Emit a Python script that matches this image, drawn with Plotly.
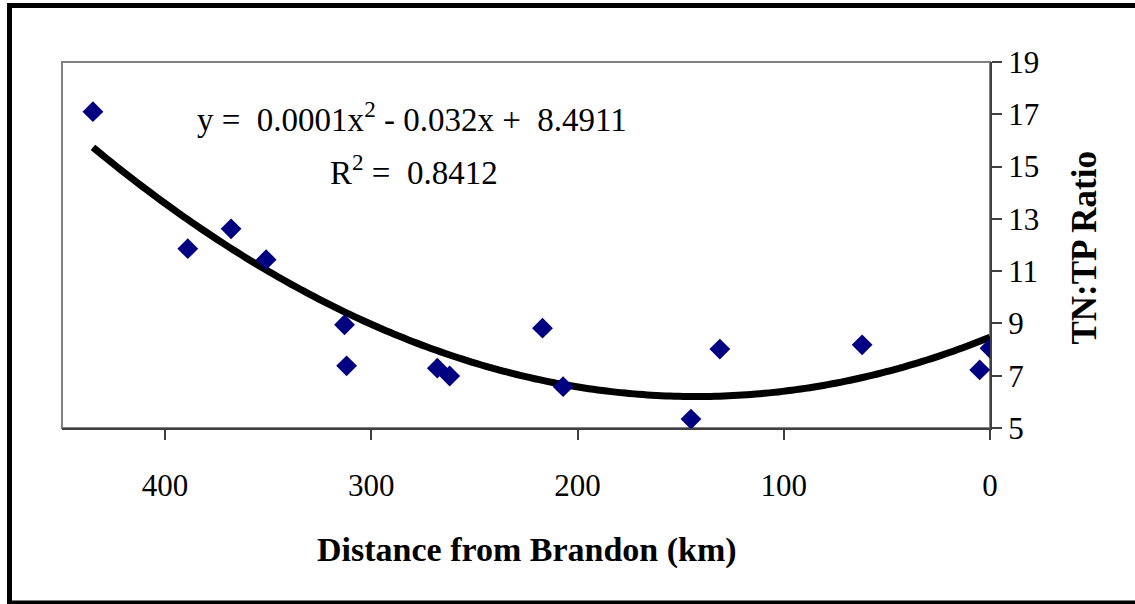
"""TN:TP ratio vs distance from Brandon, with quadratic trendline (Excel style)."""
import numpy as np
import plotly.graph_objects as go

_NAVY, _AXIS, _FRAME = "#000080", "#404040", "#808080"
FONT = "Liberation Serif"

# distance from Brandon (km) and TN:TP ratio
distance = [435, 389, 368, 351, 313, 312, 268, 262, 217, 207, 145, 131, 62, 5, 0]
tn_tp = [17.1, 11.86, 12.62, 11.44, 8.95, 7.38, 7.29, 6.99, 8.82, 6.58, 5.34, 8.02, 8.18, 7.22, 8.05]

x_ticks = [400, 300, 200, 100, 0]
y_ticks = [5, 7, 9, 11, 13, 15, 17, 19]

# quadratic trendline fitted to the points, drawn over the data range
coef = np.polyfit(distance, tn_tp, 2)
xs = np.linspace(min(distance), max(distance), 200)
ys = np.polyval(coef, xs)


def px(x, y):
    """pixel position in the 1135x604 page -> paper coords of the plot area"""
    return (x - 62) / 928, (428 - y) / 366


fig = go.Figure()
fig.add_trace(go.Scatter(x=xs, y=ys, mode="lines",
                         line=dict(color="black", width=7, simplify=False),
                         hoverinfo="skip"))
fig.add_trace(go.Scatter(x=distance, y=tn_tp, mode="markers",
                         marker=dict(symbol="diamond", size=16, color=_NAVY)))

fig.update_layout(
    width=1135, height=604, showlegend=False,
    margin=dict(l=62, r=145, t=62, b=176),
    plot_bgcolor="white", paper_bgcolor="white",
    font=dict(family=FONT, color="black", size=31),
)
fig.update_xaxes(range=[450, 0], tickvals=x_ticks, showgrid=False, zeroline=False,
                 showline=True, linecolor=_AXIS, linewidth=2,
                 ticks="outside", ticklen=10, tickcolor=_AXIS, tickwidth=2,
                 ticklabelstandoff=19, tickfont=dict(size=31))
fig.update_yaxes(range=[5, 19], tickvals=y_ticks, side="right", showgrid=False,
                 zeroline=False, showline=True, linecolor=_AXIS, linewidth=2,
                 ticks="outside", ticklen=10, tickcolor=_AXIS, tickwidth=2,
                 ticklabelstandoff=0, tickfont=dict(size=31))

# plot area frame (top/left grey) and outer black border
fig.add_shape(type="rect", xref="paper", yref="paper", x0=0, x1=1, y0=0, y1=1,
              line=dict(color=_FRAME, width=2), layer="below")
bx0, by0 = px(9.5, 603)
bx1, by1 = px(1140, 5.5)
fig.add_shape(type="rect", xref="paper", yref="paper", x0=bx0, x1=bx1, y0=by0, y1=by1,
              line=dict(color="black", width=5))

nb = "&nbsp;"
ex, ey = px(412, 94)
fig.add_annotation(text=f"y{nb}={nb} 0.0001x<sup>2</sup> - 0.032x +{nb} 8.4911",
                   xref="paper", yref="paper", x=ex, y=ey, showarrow=False,
                   font=dict(size=33))
rx, ry = px(414, 147)
fig.add_annotation(text=f"R<sup>2</sup> ={nb} 0.8412", xref="paper", yref="paper",
                   x=rx, y=ry, showarrow=False, font=dict(size=33))
tx, ty = px(527, 571)
fig.add_annotation(text="<b>Distance from Brandon (km)</b>", xref="paper", yref="paper",
                   x=tx, y=ty, showarrow=False, font=dict(size=34))
yx, yy = px(1105, 248)
fig.add_annotation(text="<b>TN:TP Ratio</b>", xref="paper", yref="paper", textangle=-90,
                   x=yx, y=yy, showarrow=False, font=dict(size=35))

fig.write_html("out.html", config={"displayModeBar": False},
               post_script="document.body.style.margin='0';")
